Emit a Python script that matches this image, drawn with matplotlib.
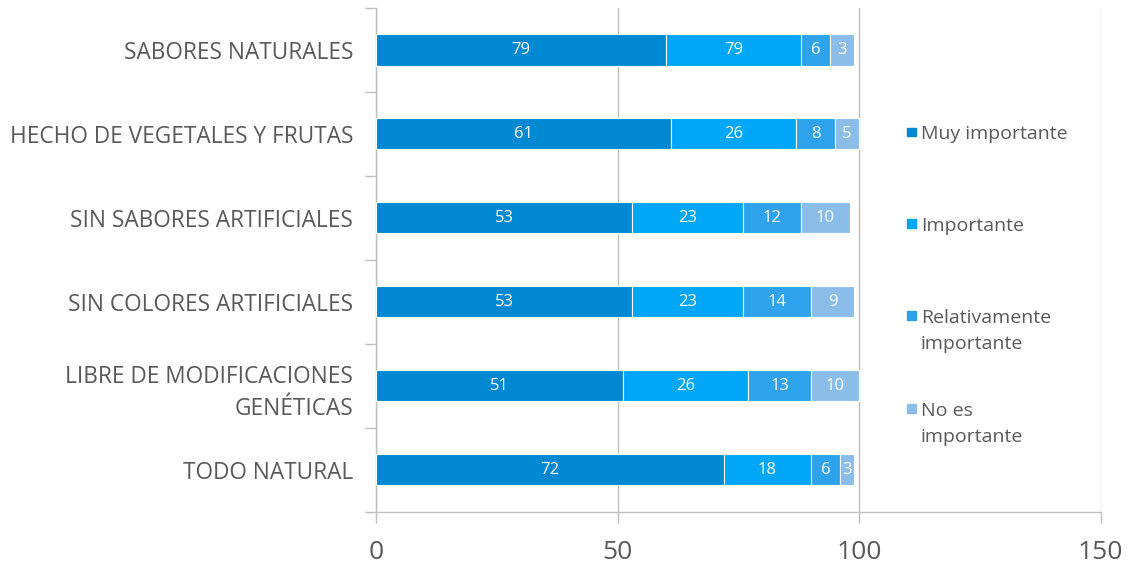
import matplotlib.pyplot as plt
from matplotlib.patches import Rectangle
from matplotlib.ticker import FixedLocator
import numpy as np

# Data (top to bottom as in the chart)
categorias = ["SABORES NATURALES", "HECHO DE VEGETALES Y FRUTAS", "SIN SABORES ARTIFICIALES",
              "SIN COLORES ARTIFICIALES", "LIBRE DE MODIFICACIONES\nGENÉTICAS", "TODO NATURAL"]
series = ["Muy importante", "Importante", "Relativamente\nimportante", "No es\nimportante"]

# bar lengths as drawn
muy_importante = [60, 61, 53, 53, 51, 72]
importante = [28, 26, 23, 23, 26, 18]
relativamente = [6, 8, 12, 14, 13, 6]
no_es = [5, 5, 10, 9, 10, 3]

# data labels as printed on the bars
etiquetas_muy = ["79", "61", "53", "53", "51", "72"]
etiquetas_imp = ["79", "26", "23", "23", "26", "18"]
etiquetas_rel = ["6", "8", "12", "14", "13", "6"]
etiquetas_no = ["3", "5", "10", "9", "10", "3"]

colores = ["#0088D2", "#00A6F8", "#2FA2EC", "#8BBDE9"]

plt.rcParams['font.family'] = ['Open Sans', 'DejaVu Sans']

fig = plt.figure(figsize=(11.3, 5.7), dpi=100)
ax = fig.add_axes([0.333, 0.102, 0.641, 0.884])

y = np.arange(len(categorias))
valores = [muy_importante, importante, relativamente, no_es]
etiquetas = [etiquetas_muy, etiquetas_imp, etiquetas_rel, etiquetas_no]
izq = np.zeros(len(categorias))
for vals, labs, col, nombre in zip(valores, etiquetas, colores, series):
    vals = np.array(vals)
    ax.barh(y, vals, left=izq, height=0.37, color=col, edgecolor="white", linewidth=0.8, zorder=3)
    for yi, l, v, lab in zip(y, izq, vals, labs):
        ax.text(l + v / 2, yi, lab, ha="center", va="center", color="white", fontsize=12, zorder=4)
    izq = izq + vals

ax.set_xlim(0, 150)
ax.set_ylim(len(categorias) - 0.5, -0.5)
ax.set_xticks([0, 50, 100, 150])
ax.set_yticks(y)
ax.set_yticklabels(categorias, fontsize=16.3, color="#595959", linespacing=1.45)
ax.yaxis.set_minor_locator(FixedLocator(np.arange(-0.5, len(categorias), 1)))
ax.tick_params(axis="y", which="major", length=0, pad=16.5)
ax.tick_params(axis="y", which="minor", length=8, color="#BFBFBF", width=1)
ax.tick_params(axis="x", length=8, color="#BFBFBF", width=1, labelsize=19, labelcolor="#595959", pad=12)

ax.grid(axis="x", color="#BFBFBF", linewidth=1, zorder=0)
for s in ["top", "right"]:
    ax.spines[s].set_visible(False)
for s in ["left", "bottom"]:
    ax.spines[s].set_color("#BFBFBF")
    ax.spines[s].set_linewidth(1)

# legend drawn by hand so the square sits on the first line
leg_y = [0.768, 0.607, 0.446, 0.283]
for nombre, col, ly in zip(series, colores, leg_y):
    fig.patches.append(Rectangle((0.803, ly - 0.007), 0.0075, 0.015, color=col, transform=fig.transFigure))
    fig.text(0.815, ly + 0.012, nombre, ha="left", va="top", fontsize=14, color="#595959", linespacing=1.6)

fig.savefig("out.png", dpi=100)
